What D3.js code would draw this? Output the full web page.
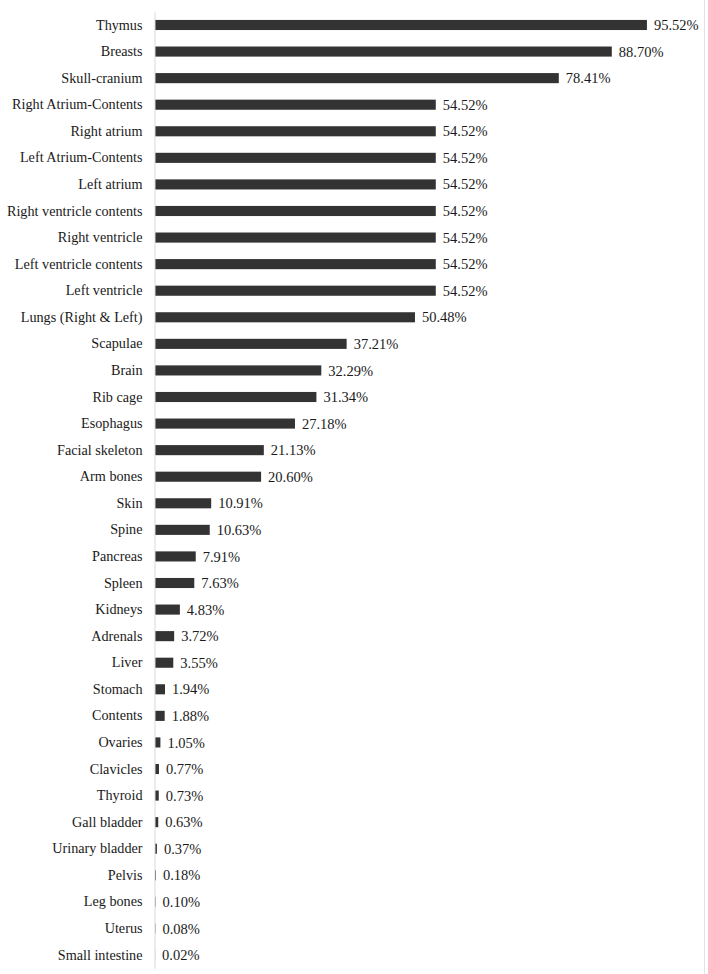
<!DOCTYPE html>
<html>
<head>
<meta charset="utf-8">
<script src="https://cdn.jsdelivr.net/npm/d3@7"></script>
<style>
  body { margin: 0; background: #fff; }
</style>
</head>
<body>
<div id="chart"></div>
<script>
var organs = ["Thymus", "Breasts", "Skull-cranium", "Right Atrium-Contents", "Right atrium",
    "Left Atrium-Contents", "Left atrium", "Right ventricle contents", "Right ventricle",
    "Left ventricle contents", "Left ventricle", "Lungs (Right & Left)", "Scapulae", "Brain",
    "Rib cage", "Esophagus", "Facial skeleton", "Arm bones", "Skin", "Spine", "Pancreas",
    "Spleen", "Kidneys", "Adrenals", "Liver", "Stomach", "Contents", "Ovaries", "Clavicles",
    "Thyroid", "Gall bladder", "Urinary bladder", "Pelvis", "Leg bones", "Uterus", "Small intestine"];
var percents = [95.52, 88.70, 78.41, 54.52, 54.52, 54.52, 54.52, 54.52, 54.52, 54.52, 54.52,
    50.48, 37.21, 32.29, 31.34, 27.18, 21.13, 20.60, 10.91, 10.63, 7.91, 7.63, 4.83, 3.72,
    3.55, 1.94, 1.88, 1.05, 0.77, 0.73, 0.63, 0.37, 0.18, 0.10, 0.08, 0.02];

var width = 708, height = 974;
var serif = "Liberation Serif, Times New Roman, serif";

var svg = d3.select("#chart").append("svg")
    .attr("width", width)
    .attr("height", height);

var x = d3.scaleLinear().domain([0, 100]).range([155, 670]);
var y = d3.scaleBand().domain(organs).range([11.7, 968.3])
    .paddingInner(0.62).paddingOuter(0.31);

// faint right frame edge
svg.append("line")
    .attr("x1", 704.5).attr("x2", 704.5)
    .attr("y1", 0).attr("y2", height)
    .attr("stroke", "#e3e3e3");

var bars = organs.map(function(o, i) { return { name: o, value: percents[i] }; });

svg.selectAll(".bar")
    .data(bars)
    .enter().append("rect")
    .attr("class", "bar")
    .attr("x", x(0))
    .attr("y", function(d) { return y(d.name); })
    .attr("width", function(d) { return x(d.value) - x(0); })
    .attr("height", y.bandwidth())
    .attr("fill", "#333333");

svg.selectAll(".val")
    .data(bars)
    .enter().append("text")
    .attr("class", "val")
    .attr("x", function(d) { return x(d.value) + 7; })
    .attr("y", function(d) { return y(d.name) + y.bandwidth() / 2; })
    .attr("dy", "0.35em")
    .attr("font-family", serif)
    .attr("font-size", 14.5)
    .attr("fill", "#1a1a1a")
    .text(function(d) { return d.value.toFixed(2) + "%"; });

var axis = svg.append("g")
    .attr("transform", "translate(154.5,0)")
    .call(d3.axisLeft(y).tickSize(0).tickPadding(12));
axis.attr("font-family", serif).attr("font-size", 14.2);
axis.select(".domain").attr("stroke", "#d9d9d9");
axis.selectAll("text").attr("fill", "#1a1a1a");
</script>
</body>
</html>
